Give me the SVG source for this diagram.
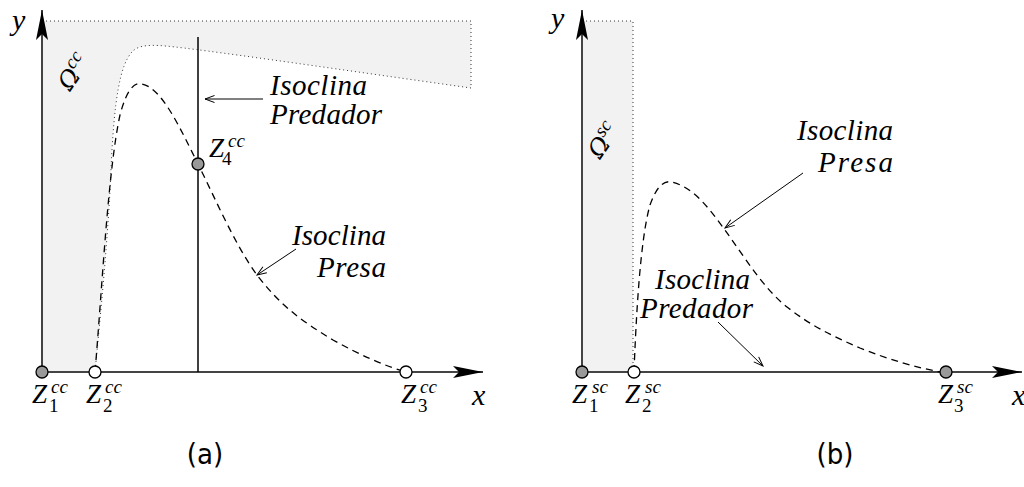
<svg xmlns="http://www.w3.org/2000/svg" width="1024" height="487" viewBox="0 0 1024 487">
<defs>
<marker id="stealth" viewBox="0 0 30 12" refX="30" refY="6" markerWidth="30" markerHeight="12" orient="auto" markerUnits="userSpaceOnUse">
<path d="M0,0 L30,6 L0,12 L6,6 Z" fill="#000"/>
</marker>
<marker id="open" viewBox="0 0 10 8" refX="9.5" refY="4" markerWidth="10" markerHeight="8" orient="auto" markerUnits="userSpaceOnUse" overflow="visible">
<path d="M0,0.5 L9.5,4 L0,7.5" fill="none" stroke="#000" stroke-width="1"/>
</marker>
</defs>
<rect width="1024" height="487" fill="#fff"/>

<g id="region-a" stroke="#333" stroke-width="1" stroke-dasharray="1 3" fill="#f2f2f2">
<path d="M42,21 H471 V88 C350,71 220,52 175,47 C150,44 138,45 132,52 C120,65 114,100 111,170 C108,240 100,320 95,372 H42 Z"/>
</g>
<g id="region-b" stroke="#333" stroke-width="1" stroke-dasharray="1 3" fill="#f2f2f2">
<path d="M582,21 H633 V372 H582 Z"/>
</g>

<g id="connectors" fill="none">
<g stroke="#444" stroke-width="2">
<path id="axis-a-y" d="M42,372 V10" marker-end="url(#stealth)"/>
<path id="axis-a-x" d="M42,372 H483" marker-end="url(#stealth)"/>
<path id="axis-b-y" d="M582,372 V10" marker-end="url(#stealth)"/>
<path id="axis-b-x" d="M582,372 H1022" marker-end="url(#stealth)"/>
</g>
<path id="pred-a" d="M198,37 V372" stroke="#000" stroke-width="1.5"/>
<g stroke="#000" stroke-width="1.3" stroke-dasharray="7 5">
<path id="prey-a" d="M95,372 C102,290 108,170 120,115 C127,88 135,82 142,84 C162,88 180,128 198,164 C215,198 235,245 257,275 C280,305 300,320 333,340 C360,355 385,366 406,372"/>
<path id="prey-b" d="M634,372 C636,320 640,240 650,205 C656,188 663,180 672,182 C695,188 710,210 725,230 C745,258 765,290 787,307 C810,325 830,335 860,348 C890,360 915,367 940,372"/>
</g>
<g stroke="#000" stroke-width="1">
<path id="arr-a-pred" d="M263,99 H205" marker-end="url(#open)"/>
<path id="arr-a-prey" d="M296,249 L257,275" marker-end="url(#open)"/>
<path id="arr-b-prey" d="M803,173 L725,228" marker-end="url(#open)"/>
<path id="arr-b-pred" d="M718,322 L763,366" marker-end="url(#open)"/>
</g>
</g>

<g id="label-a-y"><text font-family="Liberation Serif" font-style="italic" font-size="30" x="12" y="30">y</text></g>
<g id="label-a-omega"><text font-family="DejaVu Serif" font-style="italic" font-size="24" transform="translate(70,92) rotate(-55)">Ω<tspan font-family="Liberation Serif" font-size="19" dy="-10">cc</tspan></text></g>
<g id="label-a-pred"><text font-family="Liberation Serif" font-style="italic" font-size="29" x="270" y="95" textLength="97">Isoclina</text><text font-family="Liberation Serif" font-style="italic" font-size="29" x="270" y="124" textLength="112">Predador</text></g>
<g id="label-a-prey"><text font-family="Liberation Serif" font-style="italic" font-size="29" x="292" y="245" textLength="94">Isoclina</text><text font-family="Liberation Serif" font-style="italic" font-size="29" x="317" y="277" textLength="69">Presa</text></g>

<g id="Z1a"><circle cx="42" cy="372" r="6" fill="#999" stroke="#000" stroke-width="1.3"/><text font-family="Liberation Serif" font-style="italic" font-size="27" x="32" y="403">Z</text><text font-family="Liberation Serif" font-style="italic" font-size="19" x="51" y="393">cc</text><text font-family="Liberation Serif" font-size="19" x="49" y="412">1</text></g>
<g id="Z2a"><circle cx="95" cy="372" r="6" fill="#fff" stroke="#000" stroke-width="1.3"/><text font-family="Liberation Serif" font-style="italic" font-size="27" x="86" y="403">Z</text><text font-family="Liberation Serif" font-style="italic" font-size="19" x="105" y="393">cc</text><text font-family="Liberation Serif" font-size="19" x="103" y="412">2</text></g>
<g id="Z3a"><circle cx="406" cy="372" r="6" fill="#fff" stroke="#000" stroke-width="1.3"/><text font-family="Liberation Serif" font-style="italic" font-size="27" x="401" y="403">Z</text><text font-family="Liberation Serif" font-style="italic" font-size="19" x="420" y="393">cc</text><text font-family="Liberation Serif" font-size="19" x="418" y="412">3</text></g>
<g id="Z4a"><circle cx="198" cy="164" r="6" fill="#999" stroke="#000" stroke-width="1.3"/><text font-family="Liberation Serif" font-style="italic" font-size="27" x="209" y="157">Z</text><text font-family="Liberation Serif" font-style="italic" font-size="19" x="228" y="147">cc</text><text font-family="Liberation Serif" font-size="19" x="222" y="165">4</text></g>
<g id="label-a-x"><text font-family="Liberation Serif" font-style="italic" font-size="30" x="472" y="405">x</text></g>
<g id="caption-a"><text font-family="DejaVu Sans Condensed" font-size="29" x="205" y="464" text-anchor="middle">(a)</text></g>

<g id="label-b-y"><text font-family="Liberation Serif" font-style="italic" font-size="30" x="551" y="28">y</text></g>
<g id="label-b-omega"><text font-family="DejaVu Serif" font-style="italic" font-size="24" transform="translate(600,160) rotate(-55)">Ω<tspan font-family="Liberation Serif" font-size="19" dy="-10">sc</tspan></text></g>
<g id="label-b-prey"><text font-family="Liberation Serif" font-style="italic" font-size="29" x="797" y="140" textLength="96">Isoclina</text><text font-family="Liberation Serif" font-style="italic" font-size="29" x="818" y="172" textLength="75">Presa</text></g>
<g id="label-b-pred"><text font-family="Liberation Serif" font-style="italic" font-size="29" x="655" y="289" textLength="95">Isoclina</text><text font-family="Liberation Serif" font-style="italic" font-size="29" x="640" y="318" textLength="113">Predador</text></g>
<g id="Z1b"><circle cx="582" cy="372" r="6" fill="#999" stroke="#000" stroke-width="1.3"/><text font-family="Liberation Serif" font-style="italic" font-size="27" x="572" y="403">Z</text><text font-family="Liberation Serif" font-style="italic" font-size="19" x="592" y="393">sc</text><text font-family="Liberation Serif" font-size="19" x="589" y="412">1</text></g>
<g id="Z2b"><circle cx="634" cy="372" r="6" fill="#fff" stroke="#000" stroke-width="1.3"/><text font-family="Liberation Serif" font-style="italic" font-size="27" x="625" y="403">Z</text><text font-family="Liberation Serif" font-style="italic" font-size="19" x="645" y="393">sc</text><text font-family="Liberation Serif" font-size="19" x="642" y="412">2</text></g>
<g id="Z3b"><circle cx="946" cy="372" r="6" fill="#999" stroke="#000" stroke-width="1.3"/><text font-family="Liberation Serif" font-style="italic" font-size="27" x="938" y="403">Z</text><text font-family="Liberation Serif" font-style="italic" font-size="19" x="957" y="393">sc</text><text font-family="Liberation Serif" font-size="19" x="954" y="412">3</text></g>
<g id="label-b-x"><text font-family="Liberation Serif" font-style="italic" font-size="30" x="1012" y="405">x</text></g>
<g id="caption-b"><text font-family="DejaVu Sans Condensed" font-size="29" x="835" y="464" text-anchor="middle">(b)</text></g>
</svg>
